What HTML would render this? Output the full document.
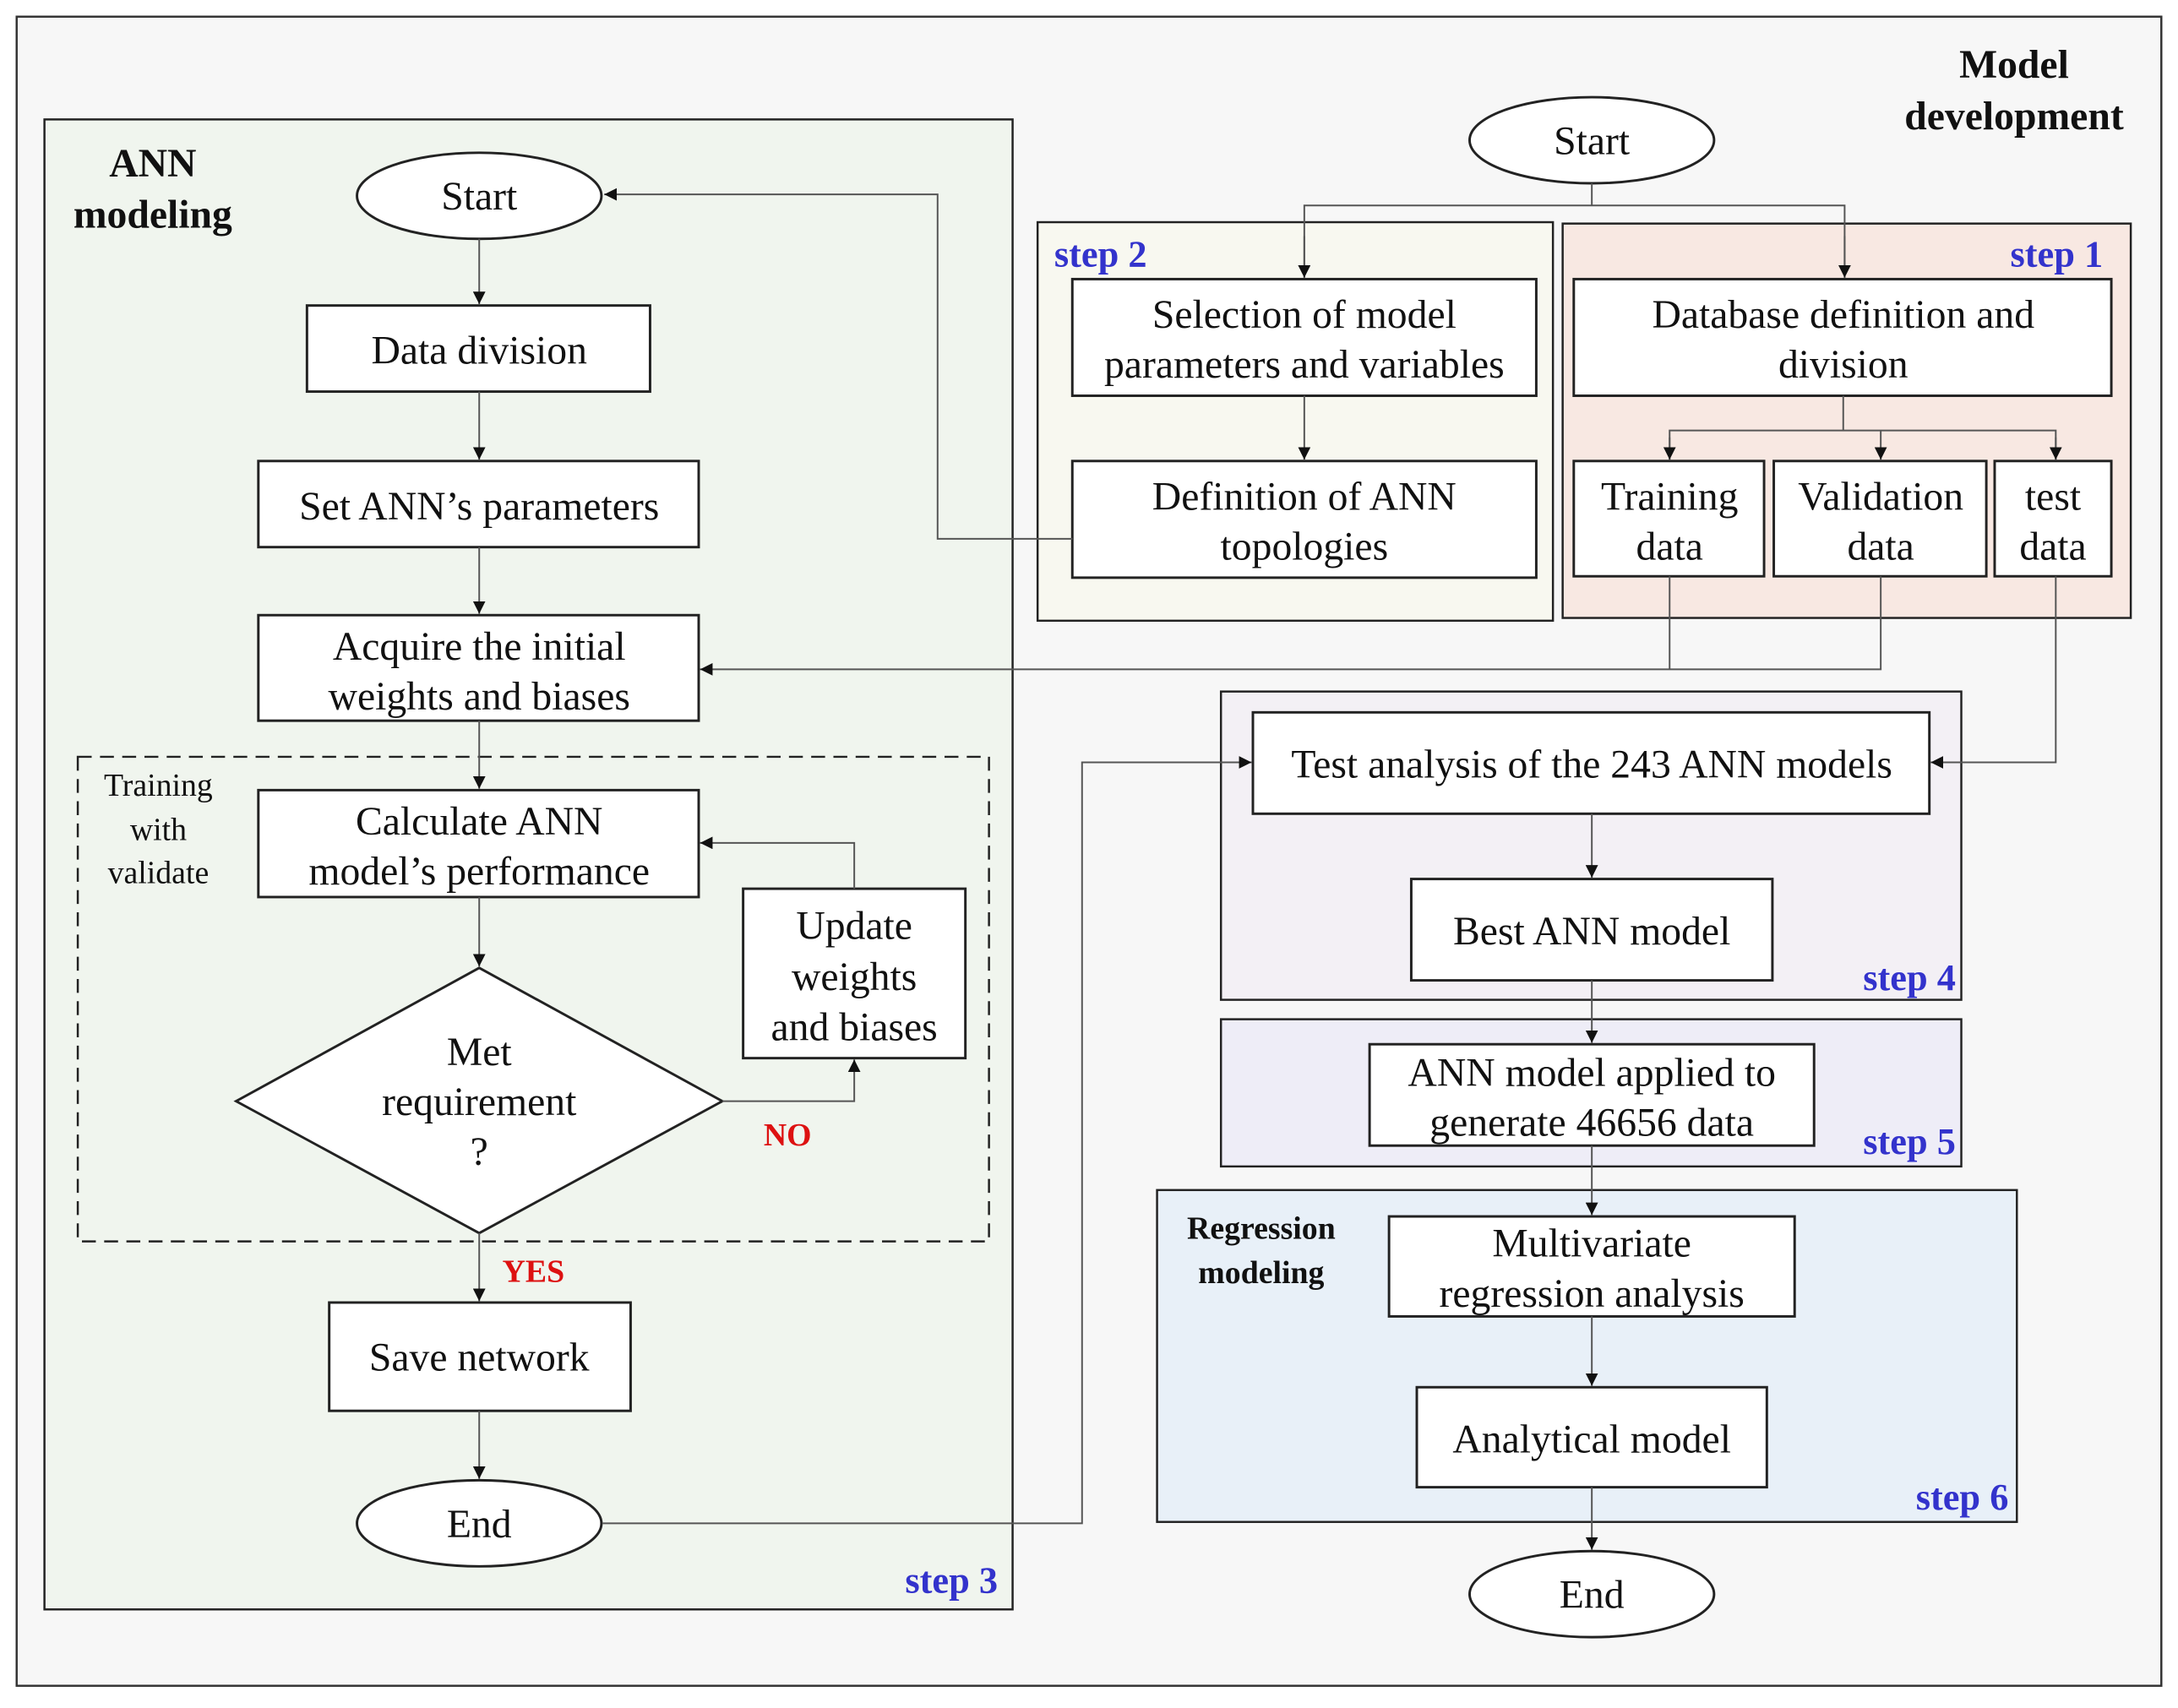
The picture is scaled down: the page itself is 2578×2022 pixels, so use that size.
<!DOCTYPE html>
<html><head><meta charset="utf-8"><style>
html,body{margin:0;padding:0;background:#fff;}
svg{display:block;}
text{font-family:"Liberation Serif",serif;fill:#111;}
.t{font-size:29px;text-anchor:middle;}
.b{font-weight:bold;}
.s{font-weight:bold;fill:#3333cc;font-size:27px;}
.r{font-weight:bold;fill:#dd1111;font-size:23px;}
.box{fill:#fff;stroke:#222;stroke-width:1.8;}
.ln{fill:none;stroke:#555;stroke-width:1.2;}
</style></head><body>
<svg width="2578" height="2022" viewBox="0 0 1568 1230" preserveAspectRatio="none" xmlns="http://www.w3.org/2000/svg">
<defs><marker id="a" viewBox="0 0 10 10" refX="10" refY="5" markerWidth="9" markerHeight="9" markerUnits="userSpaceOnUse" orient="auto"><path d="M0,0L10,5L0,10z" fill="#111"/></marker></defs>
<rect x="0" y="0" width="1568" height="1230" fill="#fff"/>
<rect x="12" y="12" width="1544" height="1202" fill="#f7f7f7" stroke="#333" stroke-width="1.5"/>
<rect x="32" y="86" width="697" height="1073" fill="#f0f5ee" stroke="#222" stroke-width="1.5"/>
<text class="b" x="110" y="127" font-size="29" text-anchor="middle">ANN</text>
<text class="b" x="110" y="164" font-size="29" text-anchor="middle">modeling</text>
<ellipse cx="345" cy="141" rx="88" ry="31" class="box"/>
<text class="t" x="345" y="151">Start</text>
<rect x="221" y="220" width="247" height="62" class="box"/>
<text class="t" x="345" y="262">Data division</text>
<rect x="186" y="332" width="317" height="62" class="box"/>
<text class="t" x="345" y="374">Set ANN’s parameters</text>
<rect x="186" y="443" width="317" height="76" class="box"/>
<text class="t" x="345" y="475">Acquire the initial</text>
<text class="t" x="345" y="511">weights and biases</text>
<rect x="56" y="545" width="656" height="349" fill="none" stroke="#222" stroke-width="1.5" stroke-dasharray="10,6"/>
<text x="114" y="573" font-size="23" text-anchor="middle">Training</text>
<text x="114" y="605" font-size="23" text-anchor="middle">with</text>
<text x="114" y="636" font-size="23" text-anchor="middle">validate</text>
<rect x="186" y="569" width="317" height="77" class="box"/>
<text class="t" x="345" y="601">Calculate ANN</text>
<text class="t" x="345" y="637">model’s performance</text>
<rect x="535" y="640" width="160" height="122" class="box"/>
<text class="t" x="615" y="676">Update</text>
<text class="t" x="615" y="713">weights</text>
<text class="t" x="615" y="749">and biases</text>
<polygon points="345,697 520,793 345,888 170,793" class="box"/>
<text class="t" x="345" y="767">Met</text>
<text class="t" x="345" y="803">requirement</text>
<text class="t" x="345" y="839">?</text>
<text class="r" x="567" y="825" text-anchor="middle">NO</text>
<text class="r" x="384" y="923" text-anchor="middle">YES</text>
<rect x="237" y="938" width="217" height="78" class="box"/>
<text class="t" x="345" y="987">Save network</text>
<ellipse cx="345" cy="1097" rx="88" ry="31" class="box"/>
<text class="t" x="345" y="1107">End</text>
<text class="s" x="685" y="1147" text-anchor="middle">step 3</text>
<line class="ln" x1="345" y1="172" x2="345" y2="219" marker-end="url(#a)"/>
<line class="ln" x1="345" y1="282" x2="345" y2="331" marker-end="url(#a)"/>
<line class="ln" x1="345" y1="394" x2="345" y2="442" marker-end="url(#a)"/>
<line class="ln" x1="345" y1="519" x2="345" y2="568" marker-end="url(#a)"/>
<line class="ln" x1="345" y1="646" x2="345" y2="696" marker-end="url(#a)"/>
<polyline class="ln" points="520,793 615,793 615,763" marker-end="url(#a)"/>
<polyline class="ln" points="615,640 615,607 504,607" marker-end="url(#a)"/>
<line class="ln" x1="345" y1="888" x2="345" y2="937" marker-end="url(#a)"/>
<line class="ln" x1="345" y1="1016" x2="345" y2="1065" marker-end="url(#a)"/>
<text class="b" x="1450" y="56" font-size="29" text-anchor="middle">Model</text>
<text class="b" x="1450" y="93" font-size="29" text-anchor="middle">development</text>
<rect x="747" y="160" width="371" height="287" fill="#f8f8f0" stroke="#222" stroke-width="1.5"/>
<rect x="1125" y="161" width="409" height="284" fill="#f8e8e2" stroke="#222" stroke-width="1.5"/>
<text class="s" x="759" y="192">step 2</text>
<text class="s" x="1514" y="192" text-anchor="end">step 1</text>
<ellipse cx="1146" cy="101" rx="88" ry="31" class="box"/>
<text class="t" x="1146" y="111">Start</text>
<polyline class="ln" points="1146,132 1146,148"/>
<polyline class="ln" points="939,200 939,148 1328,148 1328,200"/>
<line class="ln" x1="939" y1="170" x2="939" y2="200" marker-end="url(#a)"/>
<line class="ln" x1="1328" y1="170" x2="1328" y2="200" marker-end="url(#a)"/>
<rect x="772" y="201" width="334" height="84" class="box"/>
<text class="t" x="939" y="236">Selection of model</text>
<text class="t" x="939" y="272">parameters and variables</text>
<rect x="772" y="332" width="334" height="84" class="box"/>
<text class="t" x="939" y="367">Definition of ANN</text>
<text class="t" x="939" y="403">topologies</text>
<line class="ln" x1="939" y1="285" x2="939" y2="331" marker-end="url(#a)"/>
<rect x="1133" y="201" width="387" height="84" class="box"/>
<text class="t" x="1327" y="236">Database definition and</text>
<text class="t" x="1327" y="272">division</text>
<polyline class="ln" points="1327,285 1327,310"/>
<polyline class="ln" points="1202,331 1202,310 1480,310 1480,331"/>
<line class="ln" x1="1202" y1="315" x2="1202" y2="331" marker-end="url(#a)"/>
<line class="ln" x1="1354" y1="310" x2="1354" y2="331" marker-end="url(#a)"/>
<line class="ln" x1="1480" y1="315" x2="1480" y2="331" marker-end="url(#a)"/>
<rect x="1133" y="332" width="137" height="83" class="box"/>
<text class="t" x="1202" y="367">Training</text>
<text class="t" x="1202" y="403">data</text>
<rect x="1277" y="332" width="153" height="83" class="box"/>
<text class="t" x="1354" y="367">Validation</text>
<text class="t" x="1354" y="403">data</text>
<rect x="1436" y="332" width="84" height="83" class="box"/>
<text class="t" x="1478" y="367">test</text>
<text class="t" x="1478" y="403">data</text>
<polyline class="ln" points="772,388 675,388 675,140 435,140" marker-end="url(#a)"/>
<polyline class="ln" points="1202,415 1202,482"/>
<polyline class="ln" points="1354,415 1354,482 504,482" marker-end="url(#a)"/>
<rect x="879" y="498" width="533" height="222" fill="#f3f0f5" stroke="#222" stroke-width="1.5"/>
<rect x="902" y="513" width="487" height="73" class="box"/>
<text class="t" x="1146" y="560">Test analysis of the 243 ANN models</text>
<rect x="1016" y="633" width="260" height="73" class="box"/>
<text class="t" x="1146" y="680">Best ANN model</text>
<text class="s" x="1408" y="713" text-anchor="end">step 4</text>
<polyline class="ln" points="1480,415 1480,549 1390,549" marker-end="url(#a)"/>
<polyline class="ln" points="434,1097 779,1097 779,549 901,549" marker-end="url(#a)"/>
<line class="ln" x1="1146" y1="586" x2="1146" y2="632" marker-end="url(#a)"/>
<rect x="879" y="734" width="533" height="106" fill="#eeedf7" stroke="#222" stroke-width="1.5"/>
<line class="ln" x1="1146" y1="706" x2="1146" y2="751" marker-end="url(#a)"/>
<rect x="986" y="752" width="320" height="73" class="box"/>
<text class="t" x="1146" y="782">ANN model applied to</text>
<text class="t" x="1146" y="818">generate 46656 data</text>
<text class="s" x="1408" y="831" text-anchor="end">step 5</text>
<rect x="833" y="857" width="619" height="239" fill="#e8f0f8" stroke="#222" stroke-width="1.5"/>
<text class="b" x="908" y="892" font-size="23" text-anchor="middle">Regression</text>
<text class="b" x="908" y="924" font-size="23" text-anchor="middle">modeling</text>
<line class="ln" x1="1146" y1="825" x2="1146" y2="875" marker-end="url(#a)"/>
<rect x="1000" y="876" width="292" height="72" class="box"/>
<text class="t" x="1146" y="905">Multivariate</text>
<text class="t" x="1146" y="941">regression analysis</text>
<line class="ln" x1="1146" y1="948" x2="1146" y2="998" marker-end="url(#a)"/>
<rect x="1020" y="999" width="252" height="72" class="box"/>
<text class="t" x="1146" y="1046">Analytical model</text>
<text class="s" x="1446" y="1087" text-anchor="end">step 6</text>
<line class="ln" x1="1146" y1="1071" x2="1146" y2="1116" marker-end="url(#a)"/>
<ellipse cx="1146" cy="1148" rx="88" ry="31" class="box"/>
<text class="t" x="1146" y="1158">End</text>
</svg>
</body></html>
